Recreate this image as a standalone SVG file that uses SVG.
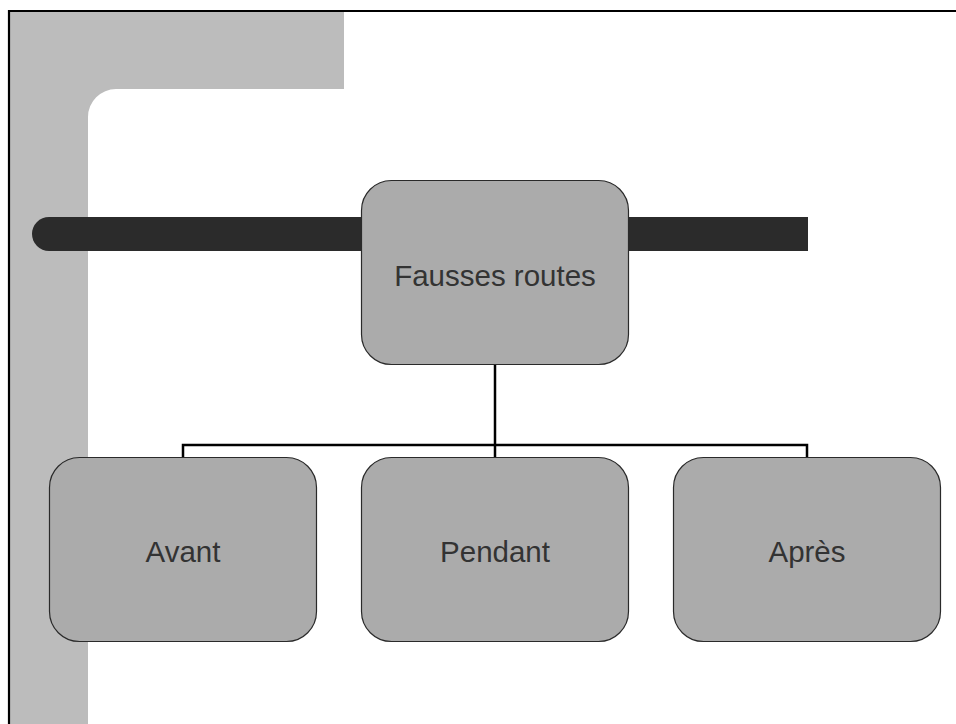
<svg xmlns="http://www.w3.org/2000/svg" width="956" height="724" viewBox="0 0 956 724">
  <style>
    .node { fill: #ABABAB; stroke: #2a2a2a; stroke-width: 1.2; }
    .label { font-family: "Liberation Sans", Arial, sans-serif; font-size: 29.5px; fill: #333333; text-anchor: middle; }
    .conn { fill: none; stroke: #000000; stroke-width: 2.5; }
  </style>
  <rect x="0" y="0" width="956" height="724" fill="#FFFFFF"/>
  <g id="background">
    <path d="M10,12 H344 V89 H116 A28,28 0 0 0 88,117 V724 H10 Z" fill="#BCBCBC"/>
    <path d="M49,217 H808 V251 H49 A17,17 0 0 1 49,217 Z" fill="#2B2B2B"/>
    <path d="M9,730 V11 H960" fill="none" stroke="#000000" stroke-width="2.2"/>
  </g>
  <g id="connectors">
    <path class="conn" d="M495,365 V457"/>
    <path class="conn" d="M183,457 V445 H807 V457"/>
  </g>
  <g id="node-root">
    <rect class="node" x="361.5" y="180.5" width="267" height="184" rx="30" ry="30"/>
    <text class="label" x="495" y="286">Fausses routes</text>
  </g>
  <g id="node-avant">
    <rect class="node" x="49.5" y="457.5" width="267" height="184" rx="30" ry="30"/>
    <text class="label" x="183" y="562">Avant</text>
  </g>
  <g id="node-pendant">
    <rect class="node" x="361.5" y="457.5" width="267" height="184" rx="30" ry="30"/>
    <text class="label" x="495" y="562">Pendant</text>
  </g>
  <g id="node-apres">
    <rect class="node" x="673.5" y="457.5" width="267" height="184" rx="30" ry="30"/>
    <text class="label" x="807" y="562">Après</text>
  </g>
</svg>
